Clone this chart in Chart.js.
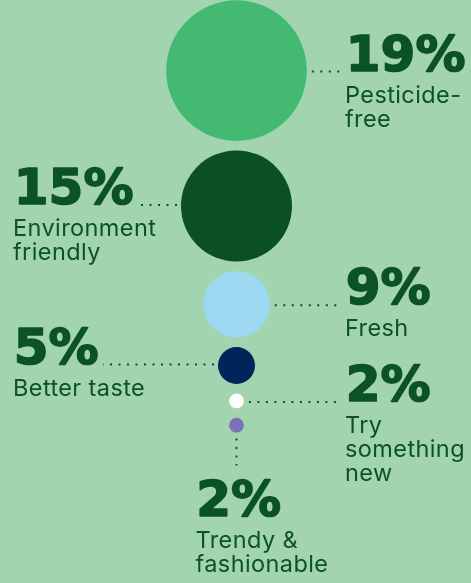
<!DOCTYPE html>
<html>
<head>
<meta charset="utf-8">
<script src="https://cdn.jsdelivr.net/npm/chart.js@4"></script>
<style>
  html, body { margin: 0; padding: 0; background: #a2d4b0; }
  #wrap { position: relative; width: 471px; height: 583px; }
</style>
</head>
<body>
<div id="wrap"><canvas id="c"></canvas></div>
<script>
// ---- data ----
const categories = ['Pesticide-\nfree', 'Environment\nfriendly', 'Fresh', 'Better taste', 'Try\nsomething\nnew', 'Trendy &\nfashionable'];
const values = [19, 15, 9, 5, 2, 2];

// ---- style / layout (not data) ----
const colors = ['#43b971', '#0b4f27', '#9cd9f0', '#00255b', '#ffffff', '#7a71b6'];
const sides = ['right', 'left', 'right', 'left', 'right', 'below'];
const PX_PER_PCT = 3.7;   // bubble radius in px per percentage point
const GAP = 9.5;          // vertical gap between bubbles
const CENTER_X = 236.5;
const TEXT = '#0b5227';
const PCT_FONT = 'bold 50px "DejaVu Sans"';
const LBL_FONT = '400 23.5px Inter';

// stack bubbles vertically using their radii
const points = [];
let cursor = 0.3;
values.forEach((v, i) => {
  const r = v * PX_PER_PCT;
  const y = cursor + r;
  points.push({ x: CENTER_X, y: y, r: r });
  cursor = y + r + GAP;
});

function dotted(ctx, x1, y1, x2, y2) {
  ctx.save();
  ctx.strokeStyle = TEXT;
  ctx.lineWidth = 2;
  ctx.setLineDash([2, 6.5]);
  ctx.beginPath();
  ctx.moveTo(x1, y1);
  ctx.lineTo(x2, y2);
  ctx.stroke();
  ctx.restore();
}

function heavyText(ctx, txt, x, y) {
  ctx.font = PCT_FONT;
  ctx.lineJoin = 'round';
  ctx.lineWidth = 1.6;
  ctx.strokeStyle = TEXT;
  ctx.fillText(txt, x + 0.8, y - 0.8);
  ctx.strokeText(txt, x + 0.8, y - 0.8);
}

const labelPlugin = {
  id: 'bubbleLabels',
  afterDatasetsDraw(chart) {
    const ctx = chart.ctx;
    const meta = chart.getDatasetMeta(0);
    meta.data.forEach((el, i) => {
      const cx = el.x, cy = el.y, r = el.options.radius;
      const side = sides[i];
      const lines = categories[i].split('\n');
      const pct = values[i] + '%';
      ctx.save();
      ctx.fillStyle = TEXT;
      ctx.textAlign = 'left';
      ctx.textBaseline = 'alphabetic';
      let tx, base;
      if (side === 'right') {
        tx = 345;
        base = cy + 1;
        dotted(ctx, cx + r + 5, cy + 1, tx - 3, cy + 1);
      } else if (side === 'left') {
        tx = 13;
        base = cy - 1;
        ctx.font = PCT_FONT;
        const w = ctx.measureText(pct).width;
        dotted(ctx, cx - r - 4, cy - 1, tx + w + 5, cy - 1);
      } else {
        tx = cx - 41;
        const top = cy + r;
        dotted(ctx, cx, top + 6, cx, top + 33);
        base = top + 84;
      }
      heavyText(ctx, pct, tx, base);
      ctx.font = LBL_FONT;
      ctx.letterSpacing = '0.4px';
      lines.forEach((ln, k) => {
        ctx.fillText(ln, tx, base + 31 + k * 24);
      });
      ctx.restore();
    });
  }
};

new Chart(document.getElementById('c'), {
  type: 'bubble',
  data: {
    datasets: [{
      data: points,
      backgroundColor: colors,
      borderWidth: 0,
      hoverBorderWidth: 0,
      clip: false
    }]
  },
  options: {
    responsive: true,
    maintainAspectRatio: false,
    animation: false,
    layout: { padding: 0, autoPadding: false },
    events: [],
    plugins: { legend: { display: false }, tooltip: { enabled: false } },
    scales: {
      x: { type: 'linear', min: 0, max: 471, display: false },
      y: { type: 'linear', min: 0, max: 583, reverse: true, display: false }
    }
  },
  plugins: [labelPlugin]
});
</script>
</body>
</html>
